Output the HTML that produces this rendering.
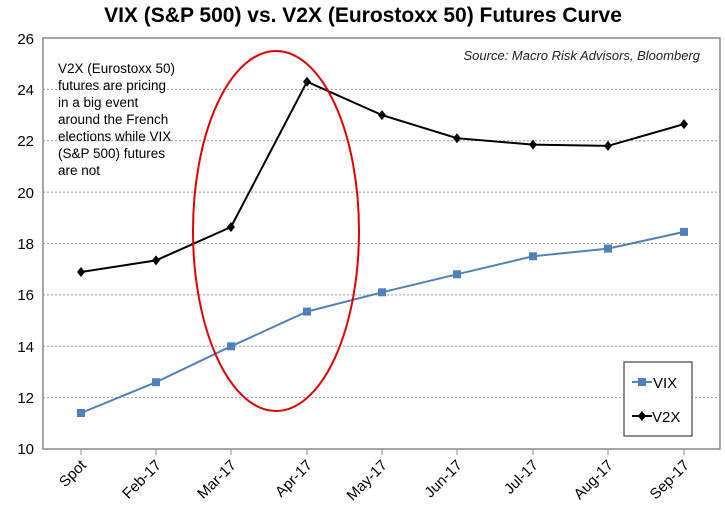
<!DOCTYPE html>
<html><head><style>
body{margin:0;background:#fff;}
svg{display:block;font-family:"Liberation Sans",Arial,sans-serif;}
</style></head><body>
<svg width="725" height="514" viewBox="0 0 725 514">
<text x="363" y="22" text-anchor="middle" font-size="21" font-weight="bold" fill="#000">VIX (S&amp;P 500) vs. V2X (Eurostoxx 50) Futures Curve</text>
<rect x="43" y="38" width="677" height="411" fill="none" stroke="#888" stroke-width="1.5"/>
<g stroke="#999" stroke-dasharray="2,2" stroke-width="1">
<line x1="43" x2="720" y1="89.4" y2="89.4"/>
<line x1="43" x2="720" y1="140.8" y2="140.8"/>
<line x1="43" x2="720" y1="192.1" y2="192.1"/>
<line x1="43" x2="720" y1="243.5" y2="243.5"/>
<line x1="43" x2="720" y1="294.9" y2="294.9"/>
<line x1="43" x2="720" y1="346.3" y2="346.3"/>
<line x1="43" x2="720" y1="397.6" y2="397.6"/>
</g>
<g font-size="15" text-anchor="end" fill="#000">
<text x="34" y="44">26</text><text x="34" y="95">24</text><text x="34" y="146">22</text>
<text x="34" y="198">20</text><text x="34" y="249">18</text><text x="34" y="300">16</text>
<text x="34" y="352">14</text><text x="34" y="403">12</text><text x="34" y="454">10</text>
</g>
<g stroke="#888" stroke-width="1">
<line x1="81" x2="81" y1="449" y2="455"/><line x1="156" x2="156" y1="449" y2="455"/>
<line x1="231" x2="231" y1="449" y2="455"/><line x1="307" x2="307" y1="449" y2="455"/>
<line x1="382" x2="382" y1="449" y2="455"/><line x1="457" x2="457" y1="449" y2="455"/>
<line x1="533" x2="533" y1="449" y2="455"/><line x1="608" x2="608" y1="449" y2="455"/>
<line x1="684" x2="684" y1="449" y2="455"/>
</g>
<g font-size="15" text-anchor="end" fill="#000">
<text transform="translate(87,466) rotate(-45)">Spot</text>
<text transform="translate(162,466) rotate(-45)">Feb-17</text>
<text transform="translate(237,466) rotate(-45)">Mar-17</text>
<text transform="translate(313,466) rotate(-45)">Apr-17</text>
<text transform="translate(388,466) rotate(-45)">May-17</text>
<text transform="translate(463,466) rotate(-45)">Jun-17</text>
<text transform="translate(539,466) rotate(-45)">Jul-17</text>
<text transform="translate(614,466) rotate(-45)">Aug-17</text>
<text transform="translate(690,466) rotate(-45)">Sep-17</text>
</g>
<polyline fill="none" stroke="#4f81bd" stroke-width="2" points="81,413 156,382.2 231,346.3 307,311.6 382,292.3 457,274.3 533,256.3 608,248.6 684,231.9"/>
<g fill="#4f81bd">
<rect x="77" y="409" width="8" height="8"/><rect x="152" y="378.2" width="8" height="8"/>
<rect x="227" y="342.3" width="8" height="8"/><rect x="303" y="307.6" width="8" height="8"/>
<rect x="378" y="288.3" width="8" height="8"/><rect x="453" y="270.3" width="8" height="8"/>
<rect x="529" y="252.3" width="8" height="8"/><rect x="604" y="244.6" width="8" height="8"/>
<rect x="680" y="227.9" width="8" height="8"/>
</g>
<polyline fill="none" stroke="#000" stroke-width="2" points="81,272 156,260.4 231,227 307,81.7 382,115.1 457,138.2 533,144.6 608,145.9 684,124.1"/>
<g fill="#000">
<path d="M81 267l4 5-4 5-4-5z"/><path d="M156 255.4l4 5-4 5-4-5z"/><path d="M231 222l4 5-4 5-4-5z"/>
<path d="M307 76.7l4 5-4 5-4-5z"/><path d="M382 110.1l4 5-4 5-4-5z"/><path d="M457 133.2l4 5-4 5-4-5z"/>
<path d="M533 139.6l4 5-4 5-4-5z"/><path d="M608 140.9l4 5-4 5-4-5z"/><path d="M684 119.1l4 5-4 5-4-5z"/>
</g>
<ellipse cx="276" cy="231" rx="83" ry="180" fill="none" stroke="#e00000" stroke-width="2"/>
<text x="700" y="60" text-anchor="end" font-size="13" font-style="italic" fill="#222">Source: Macro Risk Advisors, Bloomberg</text>
<g font-size="13.5" fill="#000">
<text x="58" y="73">V2X (Eurostoxx 50)</text>
<text x="58" y="90">futures are pricing</text>
<text x="58" y="107">in a big event</text>
<text x="58" y="124">around the French</text>
<text x="58" y="141">elections while VIX</text>
<text x="58" y="158">(S&amp;P 500) futures</text>
<text x="58" y="175">are not</text>
</g>
<rect x="624" y="362" width="68" height="74" fill="#fff" stroke="#444" stroke-width="1.2"/>
<line x1="632" x2="652" y1="382" y2="382" stroke="#4f81bd" stroke-width="2"/>
<rect x="638" y="378" width="8" height="8" fill="#4f81bd"/>
<text x="653" y="388" font-size="15">VIX</text>
<line x1="632" x2="652" y1="416" y2="416" stroke="#000" stroke-width="2"/>
<path d="M642 411l4 5-4 5-4-5z" fill="#000"/>
<text x="652" y="422" font-size="15">V2X</text>
</svg>
</body></html>
